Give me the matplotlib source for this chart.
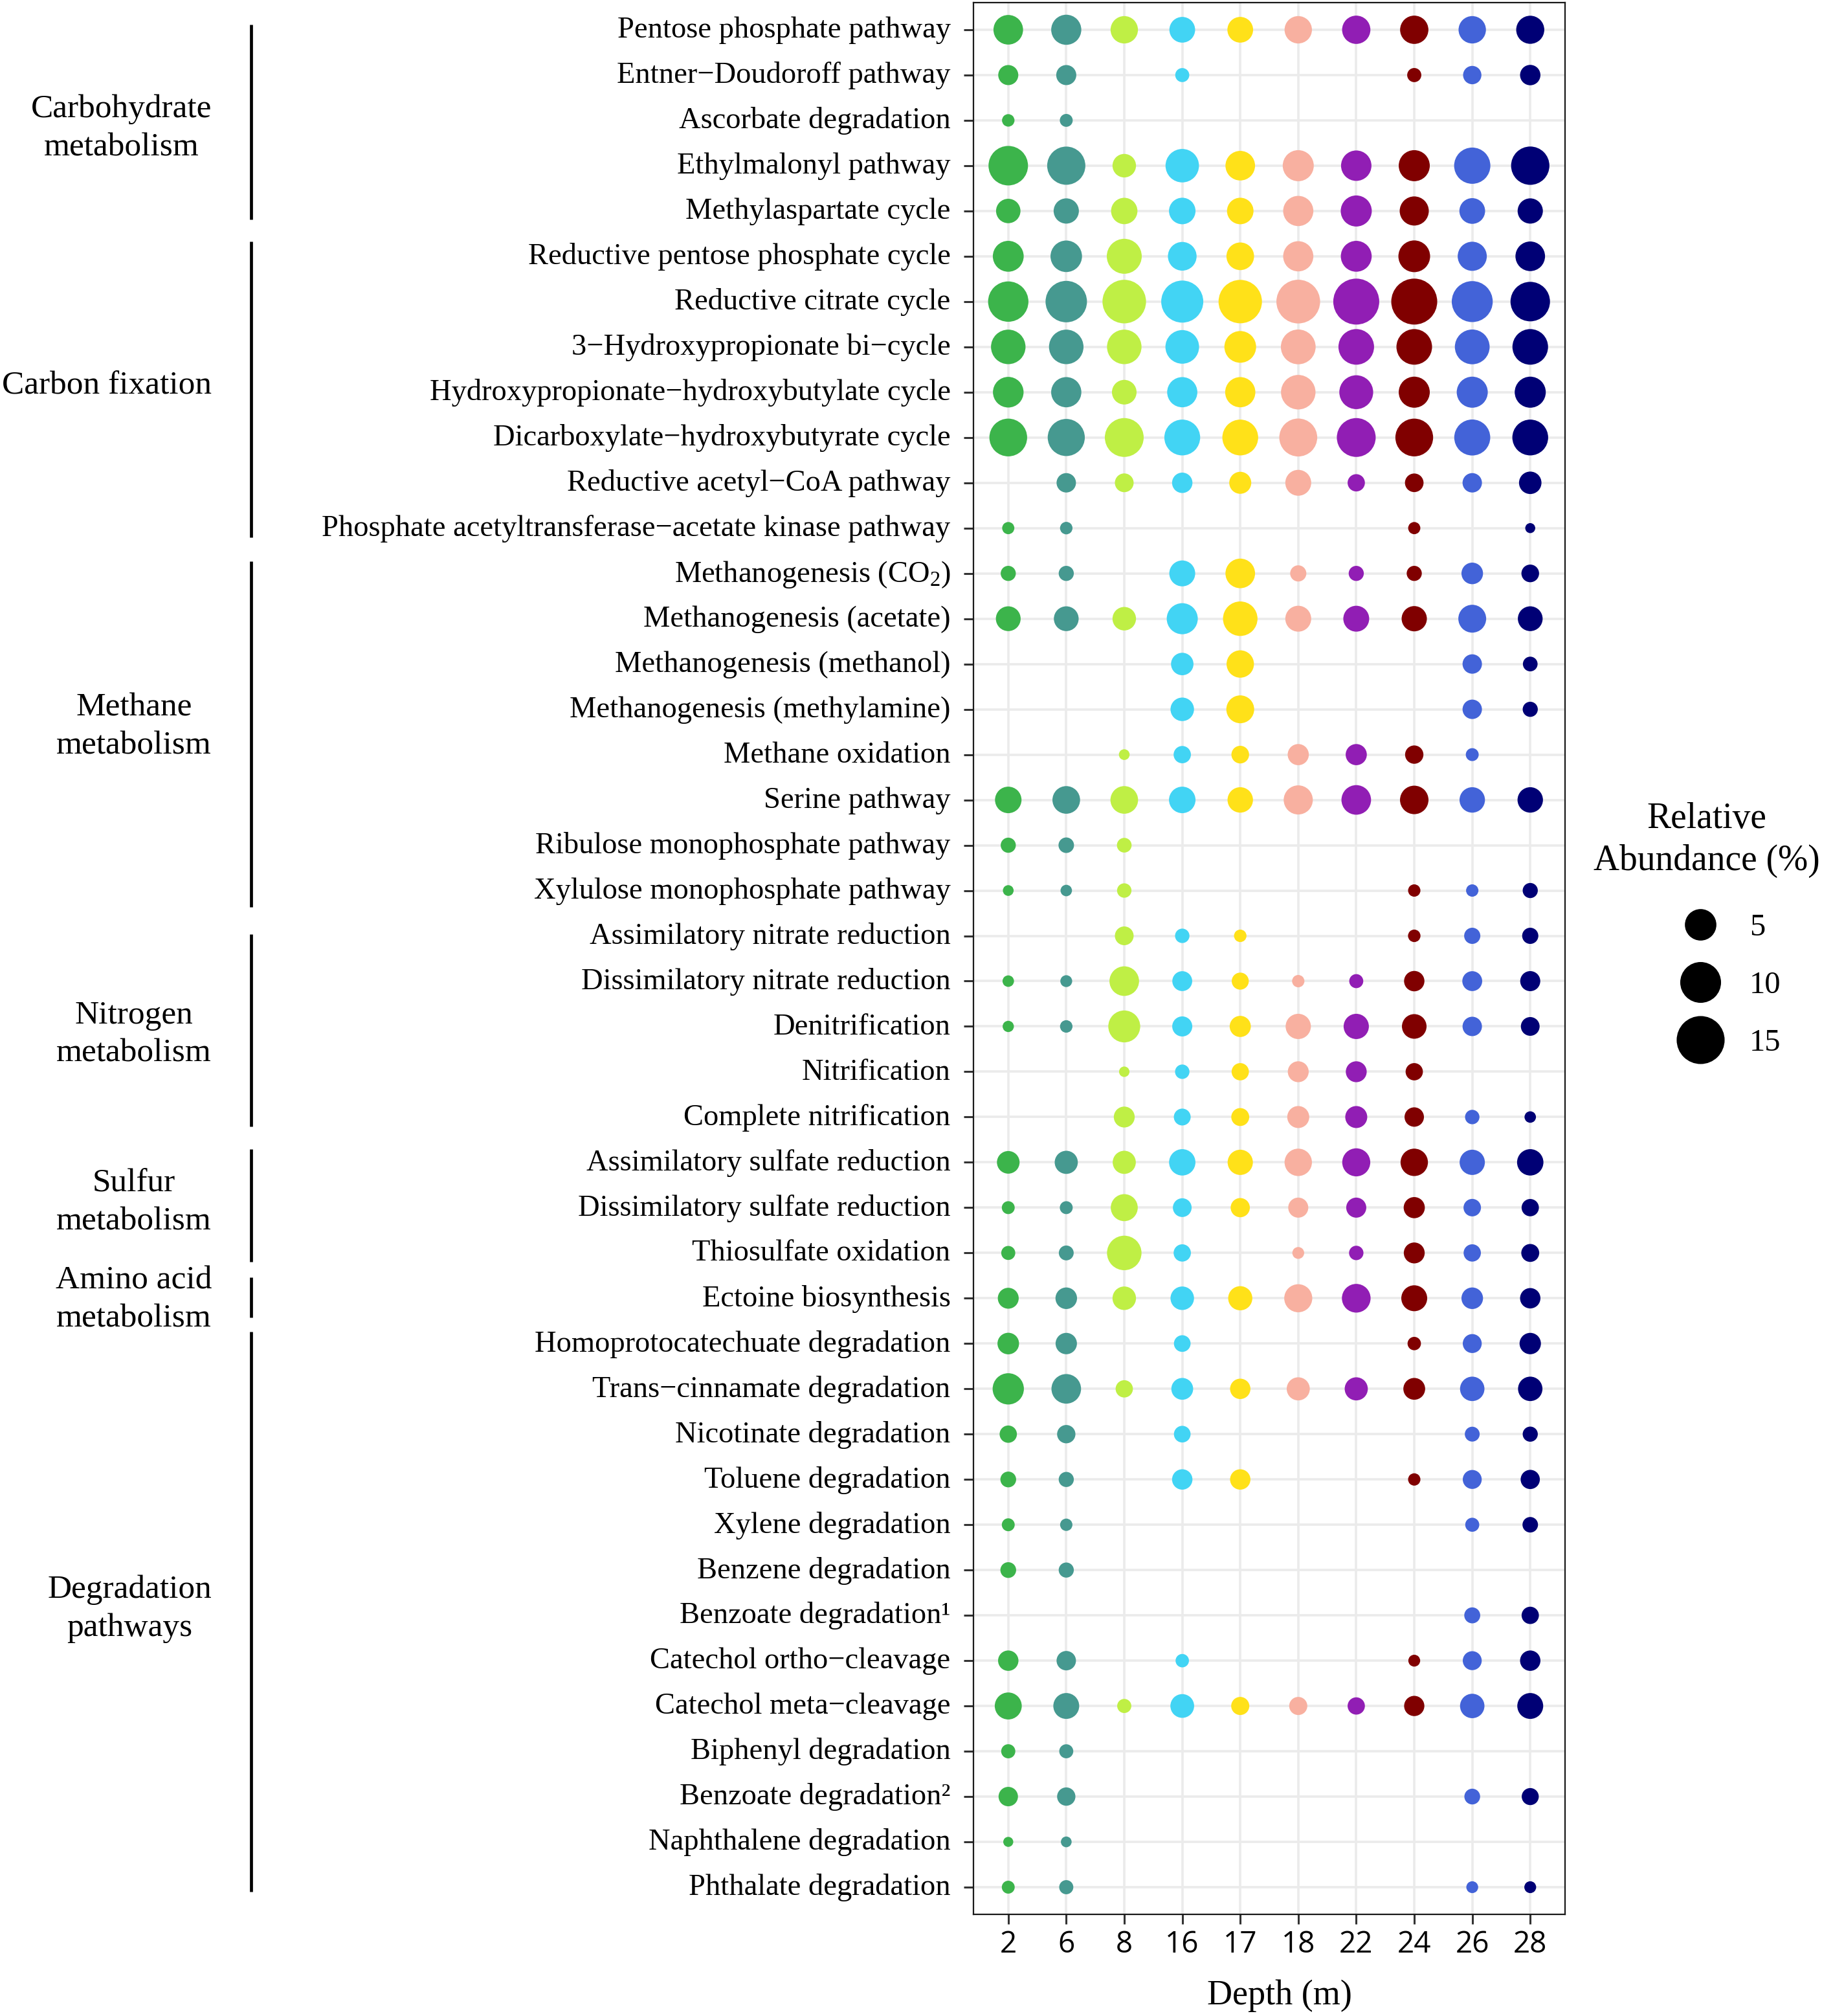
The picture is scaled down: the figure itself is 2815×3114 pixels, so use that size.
import numpy as np
import matplotlib
matplotlib.use("Agg")
import matplotlib.pyplot as plt
from matplotlib.lines import Line2D
from matplotlib.transforms import blended_transform_factory, ScaledTranslation

plt.rcParams['font.family'] = ['Liberation Serif', 'DejaVu Serif']
plt.rcParams['mathtext.fontset'] = 'custom'
plt.rcParams['mathtext.rm'] = 'Liberation Serif'
plt.rcParams['mathtext.it'] = 'Liberation Serif:italic'

# ---------------- data ----------------
depths = ["2", "6", "8", "16", "17", "18", "22", "24", "26", "28"]

pathways = [
    "Pentose phosphate pathway",
    "Entner\u2212Doudoroff pathway",
    "Ascorbate degradation",
    "Ethylmalonyl pathway",
    "Methylaspartate cycle",
    "Reductive pentose phosphate cycle",
    "Reductive citrate cycle",
    "3\u2212Hydroxypropionate bi\u2212cycle",
    "Hydroxypropionate\u2212hydroxybutylate cycle",
    "Dicarboxylate\u2212hydroxybutyrate cycle",
    "Reductive acetyl\u2212CoA pathway",
    "Phosphate acetyltransferase\u2212acetate kinase pathway",
    "Methanogenesis (CO$_{2}$)",
    "Methanogenesis (acetate)",
    "Methanogenesis (methanol)",
    "Methanogenesis (methylamine)",
    "Methane oxidation",
    "Serine pathway",
    "Ribulose monophosphate pathway",
    "Xylulose monophosphate pathway",
    "Assimilatory nitrate reduction",
    "Dissimilatory nitrate reduction",
    "Denitrification",
    "Nitrification",
    "Complete nitrification",
    "Assimilatory sulfate reduction",
    "Dissimilatory sulfate reduction",
    "Thiosulfate oxidation",
    "Ectoine biosynthesis",
    "Homoprotocatechuate degradation",
    "Trans\u2212cinnamate degradation",
    "Nicotinate degradation",
    "Toluene degradation",
    "Xylene degradation",
    "Benzene degradation",
    "Benzoate degradation\u00b9",
    "Catechol ortho\u2212cleavage",
    "Catechol meta\u2212cleavage",
    "Biphenyl degradation",
    "Benzoate degradation\u00b2",
    "Naphthalene degradation",
    "Phthalate degradation",
]

group_names = ["Carbohydrate\nmetabolism", "Carbon fixation", "Methane\nmetabolism",
               "Nitrogen\nmetabolism", "Sulfur\nmetabolism", "Amino acid\nmetabolism",
               "Degradation\npathways"]
group_first = [0, 5, 12, 20, 25, 28, 29]
group_last = [4, 11, 19, 24, 27, 28, 41]

N = None
d2 = [4.19, 1.21, 0.12, 9.19, 2.35, 4.73, 9.7, 6.43, 4.62, 8.16, N, 0.10, 0.37, 2.46, N, N, N, 3.03, 0.37, 0.03,
      N, 0.06, 0.05, N, N, 1.84, 0.15, 0.25, 1.40, 1.56, 4.9, 0.68, 0.45, 0.15, 0.45, N, 1.28, 3.2, 0.26, 1.07, 0.01, 0.15]
d6 = [4.4, 1.21, 0.15, 8.42, 2.61, 5.01, 10.39, 6.43, 4.44, 7.8, 1.07, 0.12, 0.37, 2.46, N, N, N, 3.43, 0.42, 0.06,
      N, 0.08, 0.12, N, N, 1.97, 0.15, 0.34, 1.56, 1.51, 4.19, 0.86, 0.37, 0.11, 0.37, N, 1.07, 2.82, 0.25, 0.86, 0.03, 0.26]
d8 = [3.34, N, N, 2.08, 2.98, 6.66, 11.8, 6.43, 2.41, 8.8, 0.94, N, N, 2.08, N, N, 0.03, 3.43, 0.32, 0.29,
      0.94, 4.19, 5.19, 0.02, 1.40, 1.97, 3.2, 6.43, 2.08, N, 0.68, N, N, N, N, N, N, 0.26, N, N, N, N]
d16 = [2.76, 0.25, N, 5.91, 3.03, 3.83, 10.8, 6.0, 4.44, 7.1, 1.28, N, 2.82, 4.81, 1.79, 2.08, 0.68, 3.03, N, N,
       0.29, 1.17, 1.21, 0.29, 0.61, 2.98, 0.94, 0.68, 2.08, 0.58, 1.62, 0.58, 1.28, N, N, N, 0.19, 2.15, N, N, N, N]
d17 = [2.76, N, N, 4.19, 3.03, 3.43, 11.7, 5.1, 4.44, 7.1, 1.67, N, 4.19, 6.43, 3.34, 3.51, 0.74, 2.67, N, N,
       0.12, 0.64, 1.46, 0.68, 0.79, 2.61, 1.03, N, 2.27, N, 1.28, N, 1.28, N, N, N, N, 0.82, N, N, N, N]
d18 = [3.34, N, N, 4.81, 4.44, 4.44, 11.9, 6.56, 6.43, 8.27, 2.82, N, 0.51, 2.82, N, N, 1.46, 4.0, N, N,
       N, 0.11, 2.61, 1.40, 1.67, 3.34, 1.21, 0.08, 3.58, N, 1.97, N, N, N, N, N, N, 0.82, N, N, N, N]
d22 = [3.68, N, N, 4.53, 4.81, 4.73, 13.5, 7.0, 6.1, 8.8, 0.68, N, 0.37, 2.82, N, N, 1.46, 4.19, N, N,
       N, 0.25, 2.61, 1.40, 1.67, 3.58, 1.21, 0.29, 3.83, N, 1.97, N, N, N, N, N, N, 0.68, N, N, N, N]
d24 = [3.68, 0.26, N, 4.81, 4.0, 5.1, 13.5, 7.0, 4.81, 8.16, 0.91, 0.10, 0.37, 2.61, N, N, 0.86, 3.75, N, 0.11,
       0.12, 1.28, 2.41, 0.68, 1.07, 3.34, 1.46, 1.40, 2.82, 0.19, 1.62, N, 0.11, N, N, N, 0.08, 1.25, N, N, N, N]
d26 = [3.34, 0.86, N, 7.34, 2.76, 4.0, 10.1, 6.56, 4.81, 7.2, 1.07, N, 1.56, 3.51, 1.07, 1.07, 0.15, 2.67, N, 0.11,
       0.51, 1.17, 1.07, N, 0.29, 2.61, 0.71, 0.68, 1.56, 0.98, 2.35, 0.34, 0.98, 0.25, N, 0.48, 0.98, 2.35, N, 0.45, N, 0.08]
d28 = [3.6, 1.28, N, 8.5, 2.61, 4.19, 9.19, 7.0, 4.81, 7.1, 1.79, 0.01, 0.74, 2.46, 0.32, 0.37, N, 2.67, N, 0.37,
       0.51, 1.21, 0.94, N, 0.06, 2.98, 0.68, 0.79, 1.28, 1.51, 2.35, 0.37, 1.03, 0.42, N, 0.68, 1.28, 2.82, N, 0.64, N, 0.08]

columns = [d2, d6, d8, d16, d17, d18, d22, d24, d26, d28]
colors = ["#3CB44B", "#469990", "#BFEF45", "#42D4F4", "#FFE119",
          "#F8B0A0", "#911EB4", "#800000", "#4363D8", "#000075"]
legend_values = [5, 10, 15]

# ---------------- helpers ----------------
DPI = 100
W, H = 2815, 3114


def diam_px(v):
    return 13.9 * (1 + 5 * np.sqrt(np.asarray(v, dtype=float) / 20.0))


def size_pt2(v):
    return (diam_px(v) * 72.0 / DPI) ** 2


fig = plt.figure(figsize=(W / DPI, H / DPI), dpi=DPI)
L, R, T, B = 1504, 2418, 4, 2957
ax = fig.add_axes([L / W, 1 - B / H, (R - L) / W, (B - T) / H])

for j, (col, c) in enumerate(zip(columns, colors)):
    ys = [i for i, v in enumerate(col) if v is not None]
    vs = [col[i] for i in ys]
    ax.scatter([j] * len(ys), ys, s=size_pt2(vs), color=c, linewidths=0, zorder=3)

ax.set_xlim(-0.6, len(depths) - 1 + 0.6)
ax.set_ylim(len(pathways) - 1 + 0.6, -0.6)
ax.set_xticks(range(len(depths)))
ax.set_xticklabels(depths, family=['Open Sans', 'DejaVu Sans'], fontsize=33)
ax.set_yticks(range(len(pathways)))
ax.set_yticklabels(pathways, fontsize=33.5)
ax.tick_params(axis='both', length=10.5, width=2.2, color='#333333', labelcolor='black')
ax.tick_params(axis='y', pad=15)
ax.tick_params(axis='x', pad=7)
ax.set_axisbelow(True)
ax.grid(True, color='#EBEBEB', linewidth=2.6)
for sp in ax.spines.values():
    sp.set_linewidth(1.6)
    sp.set_color('#1A1A1A')

up = ScaledTranslation(0, 3.0 / 72.0, fig.dpi_scale_trans)
for lab in ax.get_yticklabels():
    lab.set_transform(lab.get_transform() + up)

ax.set_xlabel("Depth (m)", fontsize=39, labelpad=22)
ax.xaxis.label.set_x((1977 - L) / (R - L))

# group brackets and labels
tr = blended_transform_factory(fig.transFigure, ax.transData)
br_top = [-0.11, -0.33, -0.27, -0.04, -0.29, -0.46, -0.26]
br_bot = [0.19, 0.21, 0.36, 0.21, 0.20, 0.43, 0.10]
label_rows = [2.18, 7.87, 15.39, 22.18, 25.89, 28.03, 34.86]
for name, f, l, a, b, yr in zip(group_names, group_first, group_last, br_top, br_bot, label_rows):
    ax.plot([388 / W, 388 / W], [f + a, l + b], transform=tr, color='black',
            lw=3.4, clip_on=False, solid_capstyle='butt')
    ax.text(327 / W, yr, name, transform=tr, ha='right', va='center',
            multialignment='center', fontsize=37, linespacing=1.36)

# legend
handles = [Line2D([], [], linestyle='none', marker='o', markersize=diam_px(v) * 72.0 / DPI,
                  markerfacecolor='black', markeredgewidth=0, color='black') for v in legend_values]
leg = ax.legend(handles, [str(v) for v in legend_values], title="Relative\nAbundance (%)",
                loc='upper center', bbox_to_anchor=(2637 / W, 1 - 1215 / H),
                bbox_transform=fig.transFigure, frameon=False, fontsize=35, title_fontsize=40,
                handlelength=4.3, handletextpad=-0.6, labelspacing=0.92, borderpad=0,
                alignment='center')
leg.get_title().set_multialignment('center')
leg.get_title().set_linespacing(1.3)
# a little more room between the title and the first key
leg._legend_box.sep = 0.92 * 35 + 8.0

fig.savefig("out.png", dpi=DPI, facecolor='white')
